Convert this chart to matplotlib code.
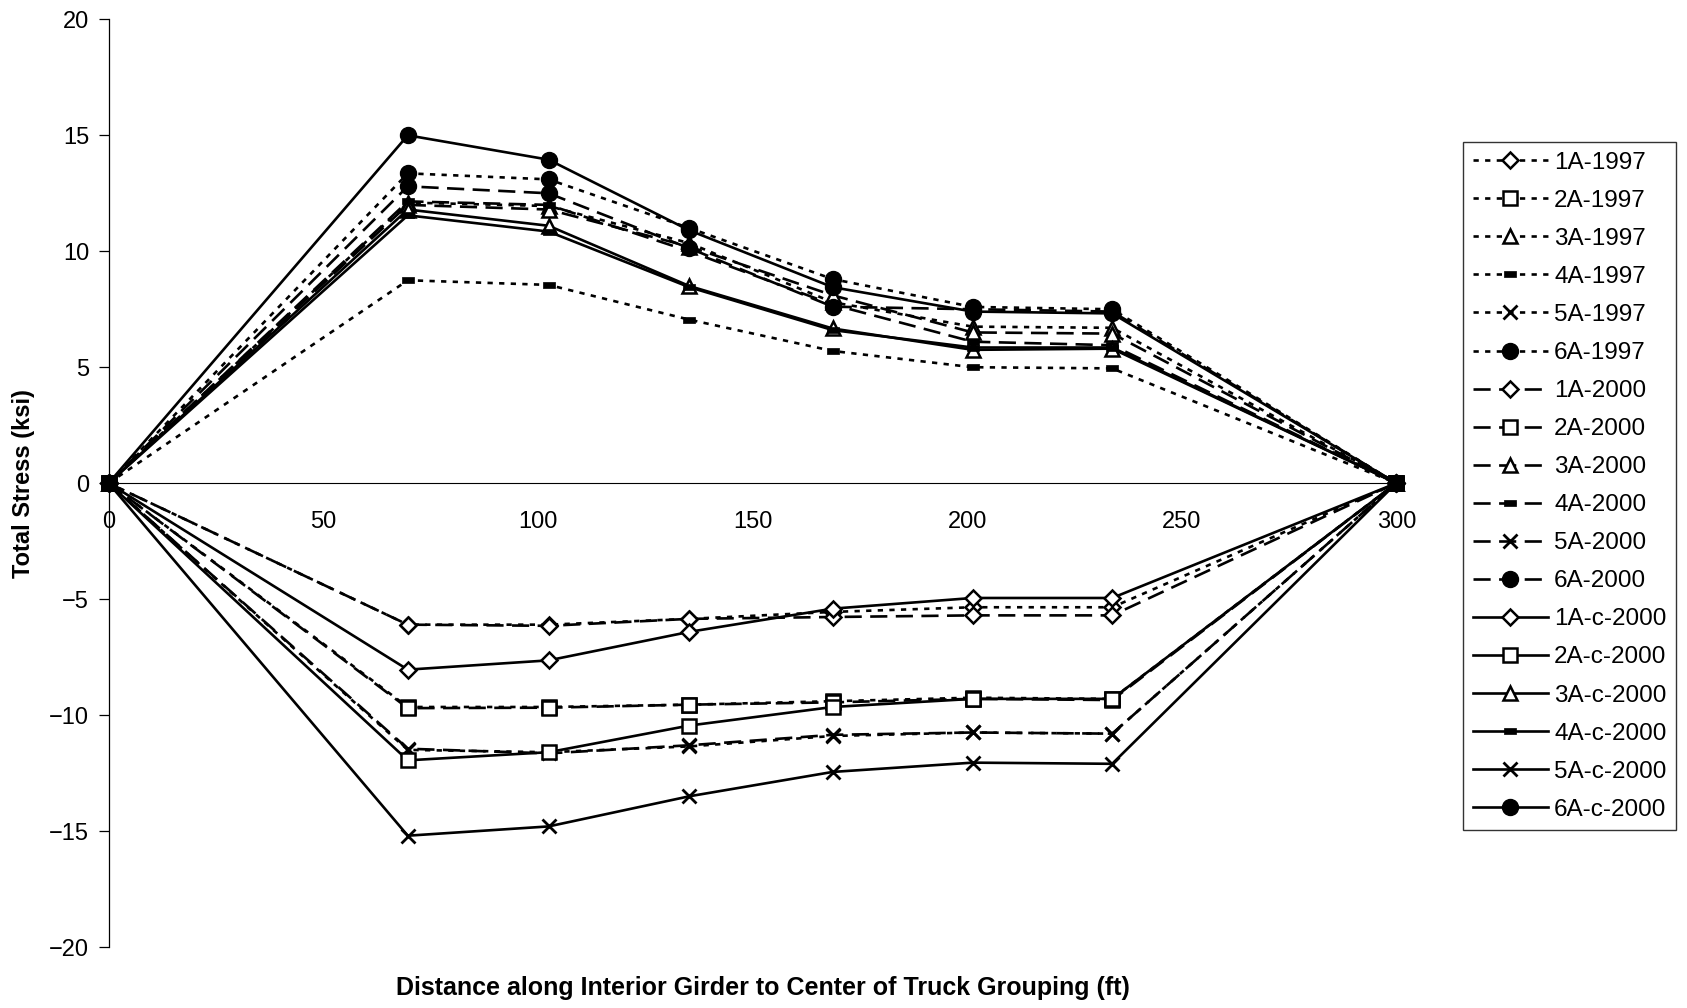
import matplotlib
matplotlib.use("Agg")
import matplotlib.pyplot as plt

plt.rcParams['font.family'] = ['Liberation Sans', 'DejaVu Sans']

# Distance along the girder (ft) of each truck-group position
distance = [0, 69.7, 102.5, 135.3, 168.7, 201.3, 233.8, 300]

# Total stress (ksi) per gauge and test year
s_1A_1997 = [0, -6.1, -6.1, -5.85, -5.55, -5.35, -5.35, 0]
s_2A_1997 = [0, -9.65, -9.65, -9.55, -9.4, -9.25, -9.3, 0]
s_3A_1997 = [0, 12.1, 11.95, 10.35, 7.8, 6.75, 6.7, 0]
s_4A_1997 = [0, 8.75, 8.55, 7.05, 5.7, 5.0, 4.95, 0]
s_5A_1997 = [0, -11.5, -11.6, -11.35, -10.9, -10.75, -10.8, 0]
s_6A_1997 = [0, 13.36, 13.1, 11.0, 8.8, 7.6, 7.5, 0]

s_1A_2000 = [0, -6.1, -6.15, -5.85, -5.77, -5.7, -5.7, 0]
s_2A_2000 = [0, -9.7, -9.68, -9.55, -9.45, -9.3, -9.35, 0]
s_3A_2000 = [0, 12.0, 11.8, 10.2, 8.1, 6.5, 6.45, 0]
s_4A_2000 = [0, 12.15, 12.0, 10.0, 7.7, 6.1, 5.95, 0]
s_5A_2000 = [0, -11.45, -11.65, -11.3, -10.85, -10.75, -10.8, 0]
s_6A_2000 = [0, 12.8, 12.5, 10.13, 7.61, 7.5, 7.4, 0]

s_1A_c_2000 = [0, -8.04, -7.64, -6.41, -5.41, -4.95, -4.95, 0]
s_2A_c_2000 = [0, -11.95, -11.6, -10.45, -9.65, -9.3, -9.3, 0]
s_3A_c_2000 = [0, 11.8, 11.1, 8.5, 6.67, 5.75, 5.8, 0]
s_4A_c_2000 = [0, 11.55, 10.85, 8.45, 6.6, 5.85, 5.85, 0]
s_5A_c_2000 = [0, -15.2, -14.8, -13.5, -12.45, -12.05, -12.1, 0]
s_6A_c_2000 = [0, 15.0, 13.95, 10.9, 8.45, 7.4, 7.32, 0]

labels = ['1A-1997', '2A-1997', '3A-1997', '4A-1997', '5A-1997', '6A-1997',
          '1A-2000', '2A-2000', '3A-2000', '4A-2000', '5A-2000', '6A-2000',
          '1A-c-2000', '2A-c-2000', '3A-c-2000', '4A-c-2000', '5A-c-2000', '6A-c-2000']
series = [s_1A_1997, s_2A_1997, s_3A_1997, s_4A_1997, s_5A_1997, s_6A_1997,
          s_1A_2000, s_2A_2000, s_3A_2000, s_4A_2000, s_5A_2000, s_6A_2000,
          s_1A_c_2000, s_2A_c_2000, s_3A_c_2000, s_4A_c_2000, s_5A_c_2000, s_6A_c_2000]

# short bar marker for gauge 4A
bar = [(-1, -0.45), (1, -0.45), (1, 0.45), (-1, 0.45), (-1, -0.45)]
marker_styles = [
    dict(marker='D', ms=8.5, mfc='white', mec='black', mew=1.8),
    dict(marker='s', ms=9.5, mfc='white', mec='black', mew=1.8),
    dict(marker='^', ms=10.5, mfc='white', mec='black', mew=1.8),
    dict(marker=bar, ms=9, mfc='black', mec='black', mew=0.5),
    dict(marker='x', ms=10.5, mfc='black', mec='black', mew=2.0),
    dict(marker='o', ms=11.5, mfc='black', mec='black', mew=1),
]
line_styles = [(0, (2.0, 2.4)), (0, (6.5, 3.2)), '-']

fig = plt.figure(figsize=(16.87, 10.08), dpi=100)
ax = fig.add_axes([0.0644, 0.0605, 0.7633, 0.9203])

for i, (lab, ys) in enumerate(zip(labels, series)):
    ls = line_styles[i // 6]
    mk = marker_styles[i % 6]
    ax.plot(distance, ys, color='black', lw=1.9, ls=ls, label=lab,
            clip_on=False, zorder=3, **mk)

ax.set_xlim(0, 300)
ax.set_ylim(-20, 20)
ax.set_yticks(range(-20, 21, 5))
ax.set_xticks(range(0, 301, 50))

ax.spines['top'].set_visible(False)
ax.spines['right'].set_visible(False)
ax.spines['bottom'].set_position(('data', 0))
ax.spines['bottom'].set_linewidth(0.8)
ax.spines['left'].set_linewidth(0.9)
ax.tick_params(axis='y', direction='out', length=7, width=0.9, labelsize=17, pad=7)
ax.tick_params(axis='x', direction='out', length=0, labelsize=17, pad=20)

ax.set_ylabel('Total Stress (ksi)', fontsize=17, fontweight='bold', labelpad=10)
fig.text(0.452, 0.008, 'Distance along Interior Girder to Center of Truck Grouping (ft)',
         ha='center', va='bottom', fontsize=18, fontweight='bold')

leg = ax.legend(loc='upper left', bbox_to_anchor=(1463 / 1687, 1 - 142 / 1008),
                bbox_transform=fig.transFigure, fontsize=17.5, frameon=True,
                fancybox=False, edgecolor='black', handlelength=3.1,
                handletextpad=0.25, labelspacing=0.66, borderpad=0.4,
                borderaxespad=0)
leg.get_frame().set_linewidth(1.0)

fig.savefig('out.png', dpi=100)
